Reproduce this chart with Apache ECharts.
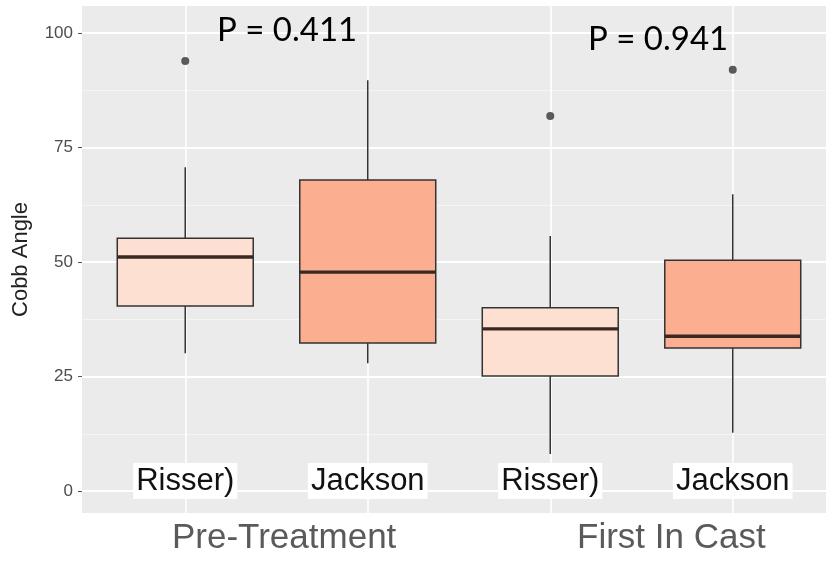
<!DOCTYPE html>
<html><head><meta charset="utf-8">
<script src="https://cdn.jsdelivr.net/npm/echarts@6/dist/echarts.min.js"></script>
<style>html,body{margin:0;padding:0;background:#fff}#c{width:829px;height:561px}</style>
</head><body><div id="c"></div>
<script>
const categories = ['Risser)', 'Jackson', 'Risser)', 'Jackson'];
const groups = ['Pre-Treatment', 'First In Cast'];
const pValues = ['P = 0.411', 'P = 0.941'];
const whiskerLow = [30.1, 27.9, 8.1, 12.7];
const q1 = [40.4, 32.3, 25.1, 31.2];
const medians = [51.1, 47.8, 35.4, 33.8];
const q3 = [55.2, 67.9, 40.0, 50.4];
const whiskerHigh = [70.7, 89.7, 55.7, 64.8];
const outliers = [[0, 93.9], [2, 81.9], [3, 92.0]];
const yTicks = [0, 25, 50, 75, 100];
const yMinorTicks = [12.5, 37.5, 62.5, 87.5];
const xCenters = [1, 3, 5, 7];
const fills = ['#fee0d2', '#fcae91', '#fee0d2', '#fcae91'];

const Y_MIN = -4.8, Y_MAX = 105.9;
const chart = echarts.init(document.getElementById('c'));
const boxData = categories.map((c, i) => [i, whiskerLow[i], q1[i], medians[i], q3[i], whiskerHigh[i]]);

chart.setOption({
  animation: false,
  backgroundColor: '#fff',
  grid: [
    {left: 82, right: 3, top: 6, bottom: 48, show: true, backgroundColor: '#ebebeb', borderWidth: 0},
    {left: 94, right: 5, top: 6, bottom: 48}
  ],
  xAxis: [
    {gridIndex: 0, type: 'value', min: 0, max: 1, show: false},
    {gridIndex: 1, type: 'category', data: categories,
      axisLine: {show: false},
      axisTick: {show: true, alignWithLabel: true, length: 4, lineStyle: {color: '#999'}},
      axisLabel: {inside: true, margin: 14, fontSize: 31, color: '#111', fontFamily: 'Liberation Sans',
        backgroundColor: '#fff', padding: [3, 3, 2, 3]},
      splitLine: {show: false}},
    {gridIndex: 1, type: 'value', min: 0, max: 8,
      axisLine: {show: false}, axisLabel: {show: false},
      axisTick: {show: false, customValues: xCenters},
      splitLine: {show: true, lineStyle: {color: '#fff', width: 1.6}}}
  ],
  yAxis: [
    {gridIndex: 0, type: 'value', min: Y_MIN, max: Y_MAX,
      name: 'Cobb Angle', nameLocation: 'middle', nameGap: 50,
      nameTextStyle: {fontSize: 22, color: '#222', fontFamily: 'Liberation Sans'},
      axisLine: {show: false},
      axisTick: {show: true, customValues: yTicks, length: 4, lineStyle: {color: '#555'}},
      axisLabel: {customValues: yTicks, fontSize: 17, color: '#4d4d4d', margin: 9, fontFamily: 'Liberation Sans'},
      splitLine: {show: true, lineStyle: {color: '#fff', width: 2}}},
    {gridIndex: 0, type: 'value', min: Y_MIN, max: Y_MAX,
      axisLine: {show: false}, axisLabel: {show: false},
      axisTick: {show: false, customValues: yMinorTicks},
      splitLine: {show: true, lineStyle: {color: '#f5f5f5', width: 1}}},
    {gridIndex: 1, type: 'value', min: Y_MIN, max: Y_MAX, show: false}
  ],
  series: [
    {
      type: 'custom', xAxisIndex: 1, yAxisIndex: 2,
      data: boxData,
      encode: {x: 0, y: [1, 2, 3, 4, 5]},
      renderItem: function (params, api) {
        const idx = api.value(0);
        const band = api.size([1, 0])[0];
        const w = band * 0.745;
        const pLow = api.coord([idx, api.value(1)]);
        const pQ1 = api.coord([idx, api.value(2)]);
        const pMed = api.coord([idx, api.value(3)]);
        const pQ3 = api.coord([idx, api.value(4)]);
        const pHigh = api.coord([idx, api.value(5)]);
        const cx = pMed[0];
        const lineStyle = {stroke: '#333', lineWidth: 1.5};
        return {
          type: 'group',
          children: [
            {type: 'line', shape: {x1: cx, y1: pLow[1], x2: cx, y2: pQ1[1]}, style: lineStyle},
            {type: 'line', shape: {x1: cx, y1: pQ3[1], x2: cx, y2: pHigh[1]}, style: lineStyle},
            {type: 'rect', shape: {x: cx - w / 2, y: pQ3[1], width: w, height: pQ1[1] - pQ3[1]},
              style: {fill: fills[idx], stroke: '#333', lineWidth: 1.5}},
            {type: 'line', shape: {x1: cx - w / 2, y1: pMed[1], x2: cx + w / 2, y2: pMed[1]},
              style: {stroke: '#3a2822', lineWidth: 3.4}}
          ]
        };
      }
    },
    {
      type: 'scatter', xAxisIndex: 1, yAxisIndex: 2,
      data: outliers, symbolSize: 8, itemStyle: {color: '#333'}
    }
  ],
  graphic: [
    {type: 'text', left: 217, top: 14, z: 100, style: {text: pValues[0], font: '33px Lato', fill: '#000'}},
    {type: 'text', left: 588, top: 23, z: 100, style: {text: pValues[1], font: '33px Lato', fill: '#000'}},
    {type: 'text', left: 172, top: 521, z: 100, style: {text: groups[0], font: '35px "Liberation Sans"', fill: '#5a5a5a'}},
    {type: 'text', left: 577, top: 521, z: 100, style: {text: groups[1], font: '35px "Liberation Sans"', fill: '#5a5a5a'}}
  ]
});
</script></body></html>
